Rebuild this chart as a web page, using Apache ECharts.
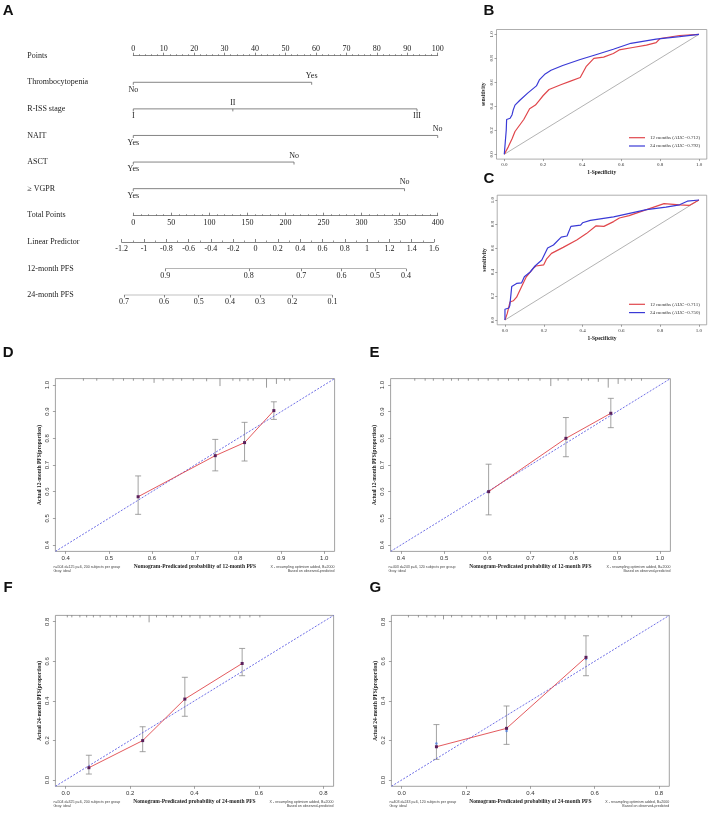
<!DOCTYPE html>
<html>
<head>
<meta charset="utf-8">
<script src="https://cdn.jsdelivr.net/npm/echarts@6/dist/echarts.min.js"></script>
<style>
  html, body { margin: 0; padding: 0; background: #fff; }
  #main { width: 709px; height: 815px; }
</style>
</head>
<body>
<div id="main"></div>
<script>
// ---------- nomogram (A) ----------
const rowNames = ['Points', 'Thrombocytopenia', 'R-ISS stage', 'NAIT', 'ASCT', '≥ VGPR',
  'Total Points', 'Linear Predictor', '12-month PFS', '24-month PFS']
const thrombLevels = ['No', 'Yes']
const thrombPts = [0, 58.6]
const rissLevels = ['I', 'II', 'III']
const rissPts = [0, 32.7, 93.2]
const naitLevels = ['Yes', 'No']
const naitPts = [0, 100]
const asctLevels = ['Yes', 'No']
const asctPts = [0, 52.8]
const vgprLevels = ['Yes', 'No']
const vgprPts = [0, 89.1]
// survival scales, placed on the linear predictor scale
const pfs12Labels = ['0.9', '0.8', '0.7', '0.6', '0.5', '0.4']
const pfs12Pos = [-0.81, -0.06, 0.41, 0.77, 1.07, 1.35]
const pfs24Labels = ['0.7', '0.6', '0.5', '0.4', '0.3', '0.2', '0.1']
const pfs24Pos = [-1.18, -0.82, -0.51, -0.23, 0.04, 0.33, 0.69]

// ---------- ROC (B, C) ----------
const rocTicks = [0, 0.2, 0.4, 0.6, 0.8, 1]
const roc12B = [[0,0],[0.02,0.06],[0.04,0.13],[0.055,0.19],[0.1,0.29],[0.13,0.38],[0.16,0.41],[0.18,0.45],
  [0.2,0.49],[0.23,0.54],[0.29,0.58],[0.34,0.61],[0.39,0.64],[0.42,0.73],[0.46,0.8],[0.51,0.81],[0.56,0.84],
  [0.59,0.87],[0.66,0.89],[0.73,0.91],[0.78,0.93],[0.8,0.965],[0.9,0.99],[1,1]]
const roc24B = [[0,0],[0.005,0.1],[0.01,0.2],[0.012,0.29],[0.03,0.3],[0.04,0.33],[0.046,0.37],[0.055,0.41],
  [0.08,0.45],[0.12,0.51],[0.165,0.57],[0.18,0.62],[0.21,0.67],[0.24,0.7],[0.3,0.74],[0.39,0.79],[0.47,0.83],
  [0.56,0.875],[0.65,0.925],[0.78,0.96],[0.9,0.98],[1,1]]
const roc12C = [[0,0],[0.012,0.055],[0.026,0.15],[0.043,0.16],[0.06,0.19],[0.086,0.28],[0.11,0.36],[0.146,0.43],
  [0.16,0.45],[0.2,0.46],[0.215,0.51],[0.24,0.555],[0.3,0.605],[0.37,0.667],[0.42,0.72],[0.47,0.785],[0.51,0.78],
  [0.56,0.82],[0.59,0.85],[0.64,0.87],[0.73,0.92],[0.82,0.97],[0.9,0.96],[0.95,0.955],[1,1]]
const roc24C = [[0,0],[0,0.09],[0.02,0.1],[0.025,0.12],[0.035,0.28],[0.06,0.305],[0.086,0.31],[0.1,0.36],
  [0.13,0.4],[0.155,0.45],[0.19,0.5],[0.22,0.6],[0.25,0.625],[0.29,0.69],[0.32,0.7],[0.34,0.78],[0.39,0.79],
  [0.4,0.81],[0.44,0.83],[0.56,0.86],[0.73,0.92],[0.83,0.94],[0.9,0.96],[0.94,0.99],[1,1]]

// ---------- calibration (D-G) ----------
const calTicks12 = [0.4, 0.5, 0.6, 0.7, 0.8, 0.9, 1.0]
const calTicks24 = [0, 0.2, 0.4, 0.6, 0.8]

const calD_pred = [0.568, 0.747, 0.815, 0.883]
const calD_obs = [0.581, 0.735, 0.784, 0.904]
const calD_lo = [0.515, 0.678, 0.715, 0.871]
const calD_hi = [0.659, 0.796, 0.86, 0.937]
const rugD_x = [0.441, 0.472, 0.51, 0.534, 0.557, 0.58, 0.605, 0.626, 0.649, 0.669, 0.696, 0.727, 0.758,
  0.788, 0.804, 0.823, 0.835, 0.866, 0.889, 0.908, 0.92]
const rugD_h = [0.008, 0.008, 0.008, 0.008, 0.008, 0.008, 0.016, 0.008, 0.008, 0.008, 0.008, 0.01, 0.028,
  0.008, 0.01, 0.008, 0.008, 0.034, 0.02, 0.008, 0.008]

const calE_pred = [0.603, 0.782, 0.886]
const calE_obs = [0.6, 0.8, 0.894]
const calE_lo = [0.513, 0.731, 0.84]
const calE_hi = [0.703, 0.878, 0.95]
const rugE_x = [0.432, 0.456, 0.475, 0.498, 0.517, 0.533, 0.556, 0.579, 0.602, 0.625, 0.649, 0.672, 0.695,
  0.722, 0.747, 0.764, 0.787, 0.818, 0.834, 0.857, 0.88, 0.903, 0.919, 0.934, 0.957]
const rugE_h = [0.008, 0.008, 0.008, 0.008, 0.008, 0.008, 0.008, 0.008, 0.008, 0.008, 0.008, 0.008, 0.008,
  0.008, 0.028, 0.008, 0.008, 0.008, 0.008, 0.012, 0.034, 0.02, 0.008, 0.008, 0.008]

const calF_pred = [0.072, 0.239, 0.37, 0.548]
const calF_obs = [0.062, 0.199, 0.409, 0.589]
const calF_lo = [0.03, 0.143, 0.322, 0.527]
const calF_hi = [0.125, 0.269, 0.519, 0.665]
const rugF_x = [0.005, 0.019, 0.044, 0.065, 0.086, 0.107, 0.138, 0.158, 0.189, 0.21, 0.231, 0.259, 0.282,
  0.313, 0.334, 0.36, 0.386, 0.417, 0.448, 0.479, 0.51, 0.541, 0.572, 0.603]
const rugF_h = [0.01, 0.01, 0.01, 0.01, 0.01, 0.01, 0.01, 0.01, 0.01, 0.01, 0.01, 0.035, 0.01,
  0.01, 0.01, 0.01, 0.01, 0.015, 0.01, 0.01, 0.01, 0.015, 0.01, 0.01]

const calG_pred = [0.108, 0.326, 0.573]
const calG_obs = [0.168, 0.261, 0.62]
const calG_lo = [0.104, 0.18, 0.527]
const calG_hi = [0.28, 0.374, 0.729]
const calG_bias = [0.185, 0.247, 0.612]
const rugG_x = [0.021, 0.052, 0.078, 0.104, 0.13, 0.155, 0.187, 0.218, 0.244, 0.269, 0.295, 0.326, 0.352,
  0.383, 0.415, 0.451, 0.477, 0.508, 0.539, 0.58, 0.611, 0.642, 0.684, 0.715]
const rugG_h = [0.01, 0.01, 0.01, 0.01, 0.02, 0.01, 0.01, 0.01, 0.01, 0.01, 0.02, 0.01, 0.01,
  0.02, 0.01, 0.01, 0.01, 0.02, 0.01, 0.01, 0.01, 0.01, 0.01, 0.01]

const SERIF = '"Liberation Serif", "DejaVu Serif", serif'
const SANS = '"Liberation Sans", Arial, sans-serif'
const LINE = '#666'

const grid = [], xAxis = [], yAxis = [], series = [], legend = [], graphic = []

// every grid gets exactly one x and one y axis, so the indexes stay in step
function addGrid (g) {
  grid.push(g)
  return grid.length - 1
}

// ---- A: row labels + categorical predictors ----
const gRows = addGrid({ left: 133.3, width: 304.4, top: 55.7, height: 239.3 })
xAxis.push({ gridIndex: gRows, type: 'value', min: 0, max: 100, show: false })
yAxis.push({
  gridIndex: gRows, type: 'category', data: rowNames, inverse: true, boundaryGap: false,
  axisLine: { show: false }, axisTick: { show: false }, splitLine: { show: false },
  axisLabel: { align: 'left', margin: 106, fontFamily: SERIF, fontSize: 8, color: '#222' }
})
const catLevels = [thrombLevels, rissLevels, naitLevels, asctLevels, vgprLevels]
const catPts = [thrombPts, rissPts, naitPts, asctPts, vgprPts]
series.push({
  type: 'custom', xAxisIndex: gRows, yAxisIndex: gRows, silent: true,
  data: catPts.map((p, i) => [p[p.length - 1], i + 1]),
  renderItem (params, api) {
    const i = params.dataIndex
    const pts = catPts[i], lv = catLevels[i], row = i + 1
    const a = api.coord([pts[0], row]), b = api.coord([pts[pts.length - 1], row])
    const children = [{ type: 'line', shape: { x1: a[0], y1: a[1], x2: b[0], y2: b[1] }, style: { stroke: LINE, lineWidth: 0.8 } }]
    pts.forEach((v, k) => {
      const c = api.coord([v, row])
      children.push({ type: 'line', shape: { x1: c[0], y1: c[1], x2: c[0], y2: c[1] + 2.5 }, style: { stroke: LINE, lineWidth: 0.8 } })
      const below = k % 2 === 0
      children.push({
        type: 'text', x: c[0], y: c[1] + (below ? 7.3 : -6.3),
        style: { text: lv[k], fontFamily: SERIF, fontSize: 8, fill: '#222', align: 'center', verticalAlign: 'middle' }
      })
    })
    return { type: 'group', children }
  }
})

// ---- A: scale rows drawn as real axes ----
function scaleRow (o) {
  const gi = addGrid({ left: o.left, width: o.width, top: o.top, height: 0 })
  xAxis.push(Object.assign({
    gridIndex: gi, type: 'value', splitLine: { show: false },
    axisLine: { show: true, onZero: false, lineStyle: { color: LINE, width: 0.8 } },
    axisTick: { show: true, length: 3, lineStyle: { color: LINE, width: 0.8 } },
    axisLabel: { margin: 3, fontFamily: SERIF, fontSize: 8, color: '#222' }
  }, o.axis))
  yAxis.push({ gridIndex: gi, type: 'value', min: 0, max: 1, show: false })
  return gi
}
scaleRow({
  left: 133.3, width: 304.4, top: 55.7,
  axis: {
    position: 'top', min: 0, max: 100, interval: 10,
    minorTick: { show: true, splitNumber: 5, length: 1.5, lineStyle: { color: LINE, width: 0.7 } },
    axisLabel: { margin: 2.5, fontFamily: SERIF, fontSize: 8, color: '#222' }
  }
})
scaleRow({
  left: 133.3, width: 304.4, top: 215.7,
  axis: {
    min: 0, max: 400, interval: 50,
    axisTick: { show: true, inside: true, length: 3, lineStyle: { color: LINE, width: 0.8 } },
    minorTick: { show: true, splitNumber: 5, length: 1.5, lineStyle: { color: LINE, width: 0.7 } }
  }
})
scaleRow({
  left: 121.7, width: 312.3, top: 242,
  axis: {
    min: -1.2, max: 1.6, interval: 0.2,
    axisTick: { show: true, inside: true, length: 3, lineStyle: { color: LINE, width: 0.8 } },
    minorTick: { show: true, splitNumber: 2, length: 1.5, lineStyle: { color: LINE, width: 0.7 } },
    axisLabel: { margin: 3, fontFamily: SERIF, fontSize: 8, color: '#222', formatter: v => String(+v.toFixed(1)) }
  }
})
function survRow (top, pos, labels) {
  const gi = scaleRow({
    left: 121.7, width: 312.3, top,
    axis: {
      min: -1.2, max: 1.6,
      axisLine: { show: false, onZero: false },
      axisTick: { show: true, customValues: pos, length: 2.5, lineStyle: { color: LINE, width: 0.8 } },
      axisLabel: {
        customValues: pos, margin: 3, fontFamily: SERIF, fontSize: 8, color: '#222',
        formatter: v => labels[pos.findIndex(p => Math.abs(p - v) < 1e-9)]
      }
    }
  })
  series.push({
    type: 'line', xAxisIndex: gi, yAxisIndex: gi, symbol: 'none', silent: true,
    data: [[pos[0], 0], [pos[pos.length - 1], 0]],
    lineStyle: { color: LINE, width: 0.8 }
  })
}
survRow(268.7, pfs12Pos, pfs12Labels)
survRow(295, pfs24Pos, pfs24Labels)

// ---- B, C: ROC ----
function rocPanel (o) {
  const gi = addGrid({ left: o.left, top: o.top, width: o.width, height: o.height, show: true, borderColor: '#999', borderWidth: 0.8 })
  const ax = {
    gridIndex: gi, type: 'value', min: -0.04, max: 1.04, splitLine: { show: false },
    axisLine: { show: false, onZero: false },
    axisTick: { show: true, length: 2, customValues: rocTicks, lineStyle: { color: LINE, width: 0.6 } },
    nameLocation: 'middle', nameTextStyle: { fontFamily: SERIF, fontWeight: 'bold', fontSize: 5.5, color: '#222' }
  }
  const lab = { customValues: rocTicks, formatter: v => v.toFixed(1), fontFamily: SERIF, fontSize: 5, color: '#333' }
  xAxis.push(Object.assign({}, ax, { name: '1-Specificity', nameGap: 10.5, axisLabel: Object.assign({}, lab, { margin: 3 }) }))
  yAxis.push(Object.assign({}, ax, { name: 'sensitivity', nameGap: 9.5, nameRotate: 90, axisLabel: Object.assign({}, lab, { rotate: 90, margin: 2 }) }))
  series.push({
    type: 'line', xAxisIndex: gi, yAxisIndex: gi, symbol: 'none', silent: true,
    data: [[0, 0], [1, 1]], lineStyle: { color: '#a0a0a0', width: 0.8 }
  })
  series.push({
    name: o.redName, type: 'line', xAxisIndex: gi, yAxisIndex: gi, symbol: 'none',
    data: o.red, color: '#e0474c', lineStyle: { color: '#e0474c', width: 1.2 }
  })
  series.push({
    name: o.blueName, type: 'line', xAxisIndex: gi, yAxisIndex: gi, symbol: 'none',
    data: o.blue, color: '#3a3ad6', lineStyle: { color: '#3a3ad6', width: 1.2 }
  })
  legend.push({
    left: 629, top: o.legendTop, orient: 'vertical', selectedMode: false, padding: 0,
    data: [o.redName, o.blueName], icon: 'rect', itemWidth: 16, itemHeight: 1.2, itemGap: 2.3,
    textStyle: { fontFamily: SERIF, fontSize: 5, lineHeight: 6, color: '#333', padding: 0 }
  })
}
rocPanel({ left: 496.5, top: 29.5, width: 210.3, height: 129.6, red: roc12B, blue: roc24B,
  redName: '12 months (AUC=0.712)', blueName: '24 months (AUC=0.792)', legendTop: 134.7 })
rocPanel({ left: 497.2, top: 195.2, width: 209.5, height: 129.6, red: roc12C, blue: roc24C,
  redName: '12 months (AUC=0.711)', blueName: '24 months (AUC=0.750)', legendTop: 301.3 })

// ---- D-G: calibration ----
function calPanel (o) {
  const gi = addGrid({ left: o.left, top: o.top, width: o.width, height: o.height, show: true, borderColor: '#8a8a8a', borderWidth: 0.8 })
  const ax = {
    gridIndex: gi, type: 'value', min: o.min, max: o.max, splitLine: { show: false },
    axisLine: { show: false, onZero: false },
    axisTick: { show: true, length: 2.5, customValues: o.ticks, lineStyle: { color: LINE, width: 0.6 } },
    nameLocation: 'middle', nameTextStyle: { fontFamily: SERIF, fontWeight: 'bold', fontSize: 5.5, color: '#222' }
  }
  const lab = { customValues: o.ticks, formatter: v => v.toFixed(1), fontFamily: SANS, fontSize: 6, color: '#333' }
  xAxis.push(Object.assign({}, ax, { name: o.xName, nameGap: 12, axisLabel: Object.assign({}, lab, { margin: 4 }) }))
  yAxis.push(Object.assign({}, ax, { name: o.yName, nameGap: 13, nameRotate: 90, axisLabel: Object.assign({}, lab, { rotate: 90, margin: 5 }) }))
  const top = o.max
  series.push({
    type: 'custom', xAxisIndex: gi, yAxisIndex: gi, silent: true,
    data: o.rugX.map((x, i) => [x, o.rugH[i]]),
    renderItem (params, api) {
      const a = api.coord([api.value(0), top]), b = api.coord([api.value(0), top - api.value(1)])
      return { type: 'line', shape: { x1: a[0], y1: a[1], x2: b[0], y2: b[1] }, style: { stroke: '#555', lineWidth: 0.6 } }
    }
  })
  series.push({
    type: 'line', xAxisIndex: gi, yAxisIndex: gi, symbol: 'none', silent: true,
    data: [[o.min, o.min], [o.max, o.max]], lineStyle: { color: '#4a4ae0', width: 0.8, type: [2, 1.5] }
  })
  series.push({
    type: 'custom', xAxisIndex: gi, yAxisIndex: gi, silent: true,
    data: o.pred.map((x, i) => [x, o.lo[i], o.hi[i]]),
    renderItem (params, api) {
      const lo = api.coord([api.value(0), api.value(1)]), hi = api.coord([api.value(0), api.value(2)])
      const st = { stroke: '#8c8c8c', lineWidth: 0.8 }
      return {
        type: 'group', children: [
          { type: 'line', shape: { x1: lo[0], y1: lo[1], x2: hi[0], y2: hi[1] }, style: st },
          { type: 'line', shape: { x1: lo[0] - 3, y1: lo[1], x2: lo[0] + 3, y2: lo[1] }, style: st },
          { type: 'line', shape: { x1: hi[0] - 3, y1: hi[1], x2: hi[0] + 3, y2: hi[1] }, style: st }
        ]
      }
    }
  })
  series.push({
    type: 'line', xAxisIndex: gi, yAxisIndex: gi, silent: true, symbol: 'rect', symbolSize: 3,
    data: o.pred.map((x, i) => [x, o.obs[i]]),
    lineStyle: { color: '#e0474c', width: 0.9 }, itemStyle: { color: '#5b1f5b' }
  })
  if (o.bias) {
    series.push({
      type: 'scatter', xAxisIndex: gi, yAxisIndex: gi, silent: true, symbol: 'circle', symbolSize: 2.5,
      data: o.pred.map((x, i) => [x, o.bias[i]]), itemStyle: { color: '#4a7ae0' }
    })
  }
  const fy = o.top + o.height
  const note = { fontFamily: SANS, fontSize: 3.6, fill: '#444' }
  graphic.push(
    { type: 'text', x: o.left - 2, y: fy + 13.3, style: Object.assign({ text: o.noteLeft + '\nGray: ideal', lineHeight: 4, align: 'left' }, note) },
    { type: 'text', x: o.left + o.width, y: fy + 13.3, style: Object.assign({ text: 'X - resampling optimism added, B=2000\nBased on observed-predicted', lineHeight: 4, align: 'right' }, note) }
  )
}
calPanel({ left: 55.4, top: 378.6, width: 279.2, height: 172.8, min: 0.376, max: 1.024, ticks: calTicks12,
  pred: calD_pred, obs: calD_obs, lo: calD_lo, hi: calD_hi, rugX: rugD_x, rugH: rugD_h,
  xName: 'Nomogram-Predicated probability of 12-month PFS', yName: 'Actual 12-month PFS(proportion)',
  noteLeft: 'n=504 d=125 p=6, 200 subjects per group' })
calPanel({ left: 390.6, top: 378.6, width: 279.8, height: 172.8, min: 0.376, max: 1.024, ticks: calTicks12,
  pred: calE_pred, obs: calE_obs, lo: calE_lo, hi: calE_hi, rugX: rugE_x, rugH: rugE_h,
  xName: 'Nomogram-Predicated probability of 12-month PFS', yName: 'Actual 12-month PFS(proportion)',
  noteLeft: 'n=403 d=243 p=6, 120 subjects per group' })
calPanel({ left: 55.4, top: 615.4, width: 278.2, height: 170.9, min: -0.032, max: 0.832, ticks: calTicks24,
  pred: calF_pred, obs: calF_obs, lo: calF_lo, hi: calF_hi, rugX: rugF_x, rugH: rugF_h,
  xName: 'Nomogram-Predicated probability of 24-month PFS', yName: 'Actual 24-month PFS(proportion)',
  noteLeft: 'n=504 d=325 p=6, 200 subjects per group' })
calPanel({ left: 391.4, top: 615.4, width: 277.9, height: 170.9, min: -0.032, max: 0.832, ticks: calTicks24,
  pred: calG_pred, obs: calG_obs, lo: calG_lo, hi: calG_hi, bias: calG_bias, rugX: rugG_x, rugH: rugG_h,
  xName: 'Nomogram-Predicated probability of 24-month PFS', yName: 'Actual 24-month PFS(proportion)',
  noteLeft: 'n=403 d=243 p=6, 120 subjects per group' })

// panel letters
const letters = [['A', 2.7, 3.5], ['B', 483.5, 3.5], ['C', 483.5, 171.5], ['D', 2.7, 345],
  ['E', 369.5, 345], ['F', 3.5, 580], ['G', 369.5, 580]]
letters.forEach(([t, x, y]) => graphic.push({
  type: 'text', x, y,
  style: { text: t, fontFamily: SANS, fontWeight: 'bold', fontSize: 15, fill: '#111', align: 'left', verticalAlign: 'top' }
}))

const myChart = echarts.init(document.getElementById('main'), null, { renderer: 'canvas' })
myChart.setOption({
  animation: false,
  backgroundColor: '#fff',
  grid, xAxis, yAxis, series, legend, graphic
})
</script>
</body>
</html>
